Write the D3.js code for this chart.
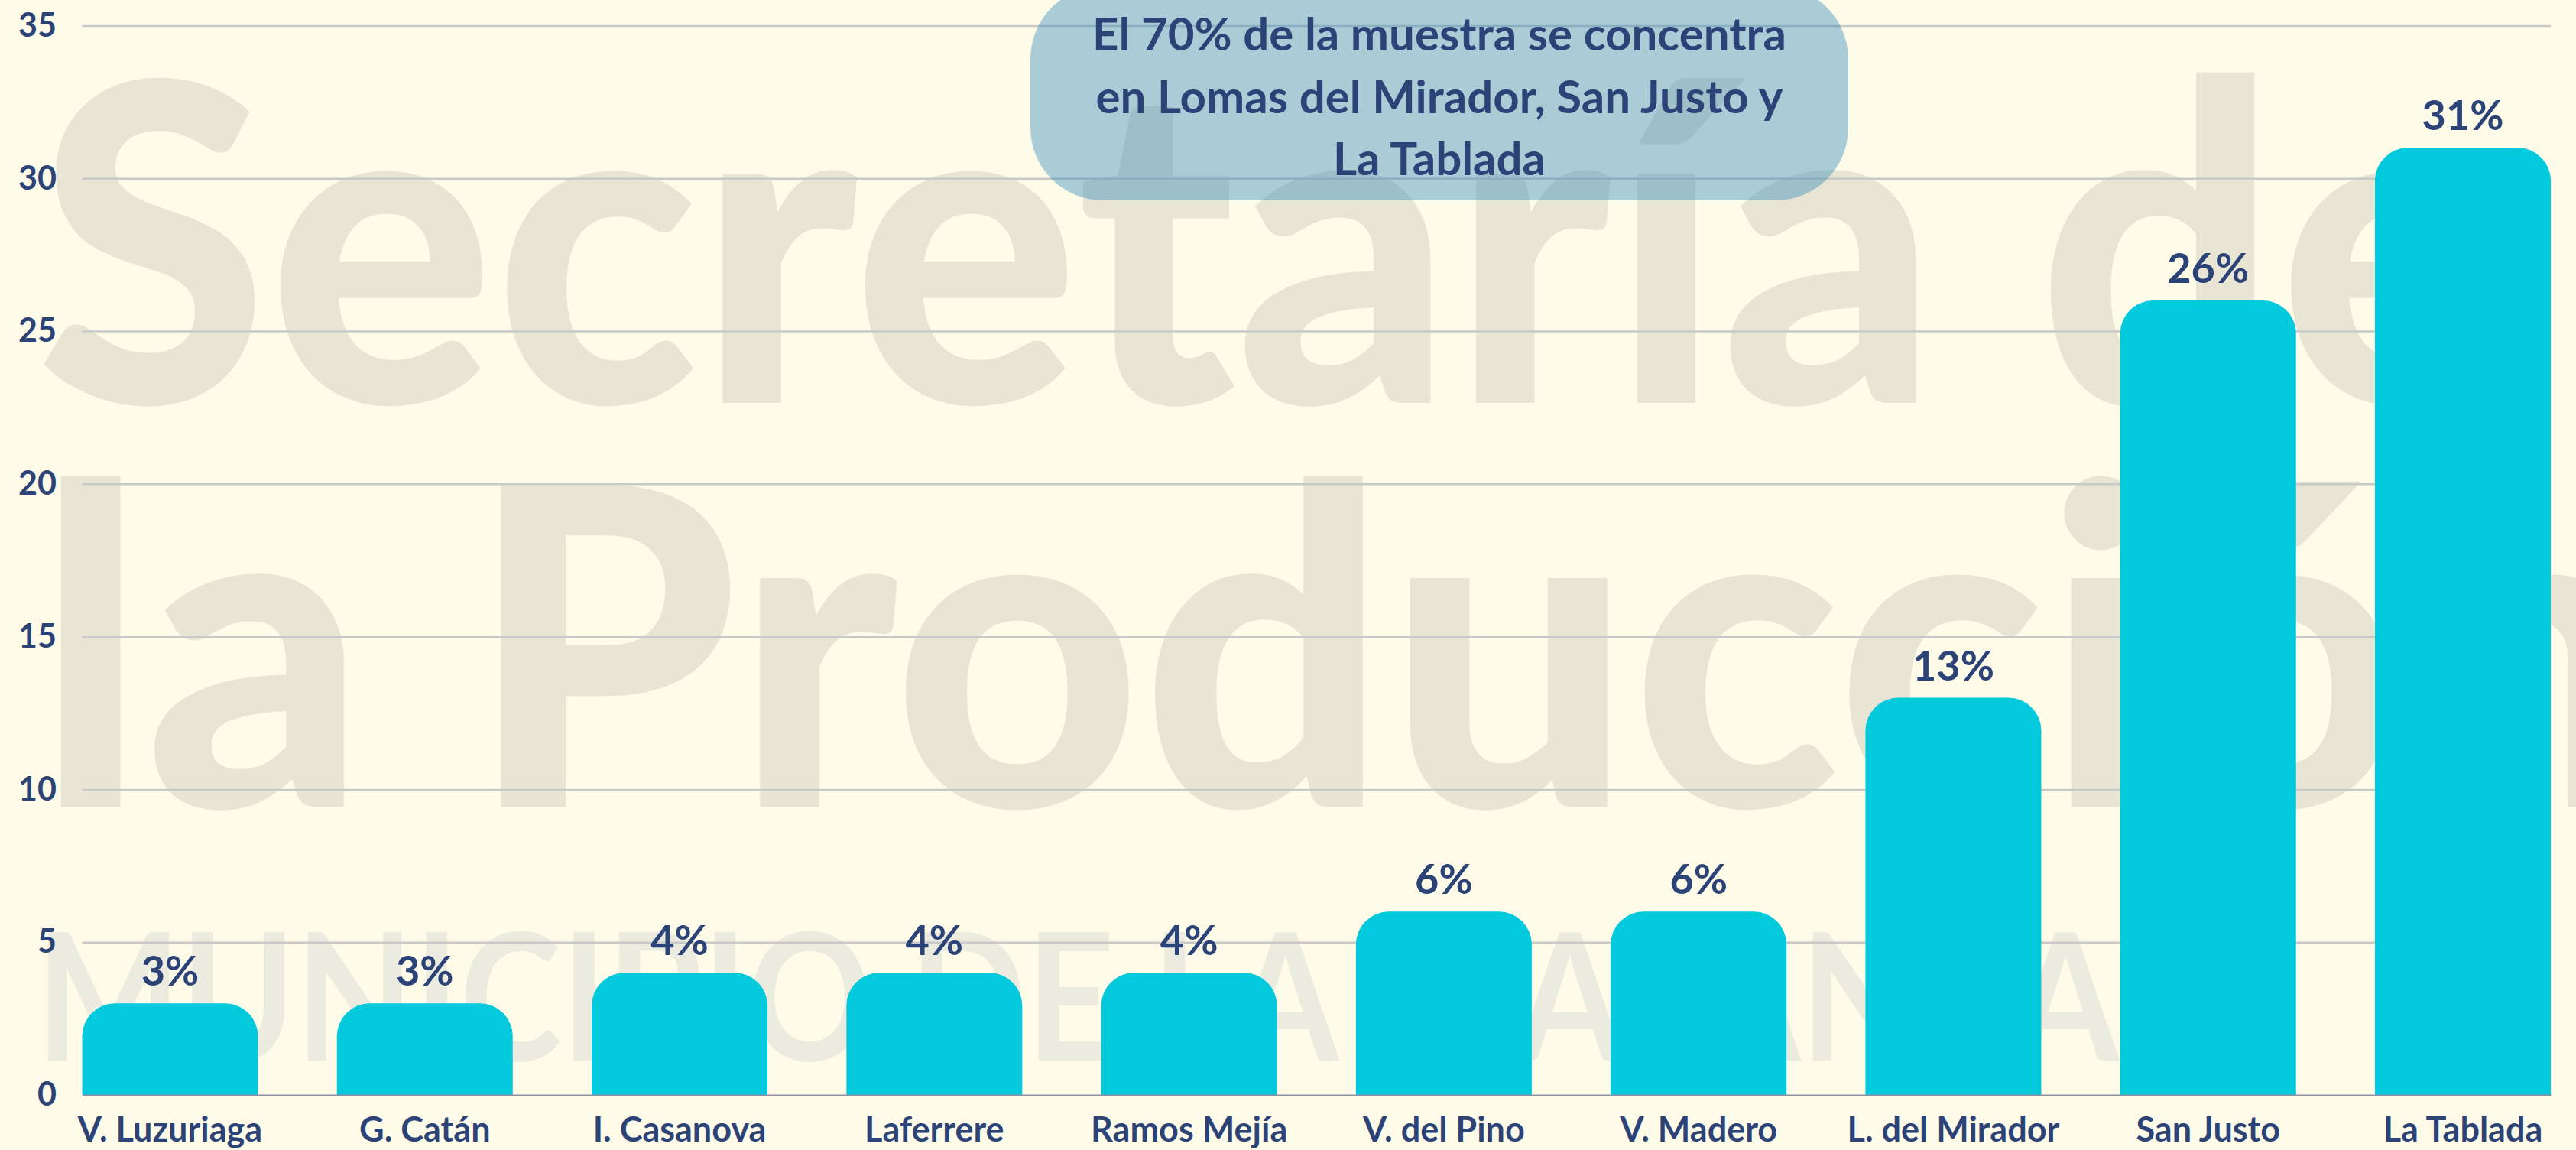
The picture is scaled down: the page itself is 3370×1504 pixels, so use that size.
<!DOCTYPE html>
<html>
<head>
<meta charset="utf-8">
<script src="https://cdn.jsdelivr.net/npm/d3@7"></script>
<style>
  html, body { margin: 0; padding: 0; background: #fefbe9; }
  svg { display: block; }
  text { font-family: Lato, "Open Sans", sans-serif; }
</style>
</head>
<body>
<svg id="chart" width="3370" height="1504"></svg>
<script>
// Data
var barrios = ["V. Luzuriaga", "G. Catán", "I. Casanova", "Laferrere", "Ramos Mejía",
               "V. del Pino", "V. Madero", "L. del Mirador", "San Justo", "La Tablada"];
var porcentajes = [3, 3, 4, 4, 4, 6, 6, 13, 26, 31];
var yTicks = [0, 5, 10, 15, 20, 25, 30, 35];
var notaLineas = ["El 70% de la muestra se concentra",
                  "en Lomas del Mirador, San Justo y",
                  "La Tablada"];

var svg = d3.select("#chart"),
    width = +svg.attr("width"),
    height = +svg.attr("height");

var navy = "#2c4377",
    barColor = "#02c9db";

var x = d3.scaleBand().domain(barrios).range([107.5, 3337]).paddingInner(0.31).paddingOuter(0);
var y = d3.scaleLinear().domain([0, 35]).range([1432, 33.5]);

// background
svg.append("rect").attr("width", width).attr("height", height).attr("fill", "#fefbe9");

// watermark
var wm = svg.append("g").attr("class", "watermark");
wm.append("text")
    .attr("x", 47).attr("y", 527)
    .attr("textLength", 3230).attr("lengthAdjust", "spacingAndGlyphs")
    .style("font-size", "580px").style("font-weight", 900)
    .attr("fill", "#e8e5d5")
    .text("Secretaría de");
wm.append("text")
    .attr("x", 47).attr("y", 1055)
    .attr("textLength", 3420).attr("lengthAdjust", "spacingAndGlyphs")
    .style("font-size", "580px").style("font-weight", 900)
    .attr("fill", "#e8e5d5")
    .text("la Producción");
wm.append("text")
    .attr("x", 47).attr("y", 1387)
    .attr("textLength", 2725).attr("lengthAdjust", "spacingAndGlyphs")
    .style("font-size", "232px").style("font-weight", 700)
    .attr("fill", "#ecebe0")
    .text("MUNICIPIO DE LA MATANZA");

// gridlines
svg.append("g")
    .attr("transform", "translate(107.5,0)")
    .call(d3.axisLeft(y).tickValues(yTicks.slice(1)).tickSize(-(3337 - 107.5)).tickFormat(""))
    .call(function(g) { g.select(".domain").remove(); })
    .call(function(g) { g.selectAll(".tick line").attr("stroke", "#c8c9c8").attr("stroke-width", 2.5); });

// y tick labels
svg.append("g")
    .attr("transform", "translate(74,0)")
    .call(d3.axisLeft(y).tickValues(yTicks).tickSize(0).tickPadding(0))
    .call(function(g) { g.select(".domain").remove(); })
    .call(function(g) {
      g.selectAll("text").attr("fill", navy)
        .style("font-family", "Lato, sans-serif").style("font-size", "43px").style("font-weight", 700);
    });

// bars with rounded tops
function barPath(d, i) {
  var x0 = x(barrios[i]), w = x.bandwidth(), y0 = y(0), y1 = y(d);
  var r = Math.min(43, (y0 - y1), w / 2);
  return "M" + x0 + "," + y0 +
         "V" + (y1 + r) +
         "A" + r + "," + r + " 0 0 1 " + (x0 + r) + "," + y1 +
         "H" + (x0 + w - r) +
         "A" + r + "," + r + " 0 0 1 " + (x0 + w) + "," + (y1 + r) +
         "V" + y0 + "Z";
}

svg.append("g").selectAll("path")
    .data(porcentajes)
    .join("path")
    .attr("d", barPath)
    .attr("fill", barColor);

// x axis
svg.append("g")
    .attr("transform", "translate(0," + y(0) + ")")
    .call(d3.axisBottom(x).tickSize(0).tickSizeOuter(0).tickPadding(29))
    .call(function(g) { g.select(".domain").attr("stroke", "#8e93a6").attr("stroke-width", 2); })
    .call(function(g) {
      g.selectAll("text").attr("fill", navy)
        .style("font-family", "Lato, sans-serif").style("font-size", "45px").style("font-weight", 700);
    });

// value labels
svg.append("g").selectAll("text")
    .data(porcentajes)
    .join("text")
    .attr("x", function(d, i) { return x(barrios[i]) + x.bandwidth() / 2; })
    .attr("y", function(d) { return y(d) - 23; })
    .attr("text-anchor", "middle")
    .attr("fill", navy)
    .style("font-size", "54px").style("font-weight", 700)
    .text(function(d) { return d + "%"; });

// annotation box
var nota = svg.append("g");
nota.append("rect")
    .attr("x", 1348).attr("y", -18)
    .attr("width", 2418 - 1348).attr("height", 262 + 18)
    .attr("rx", 95).attr("ry", 95)
    .attr("fill", "rgb(44,134,184)").attr("fill-opacity", 0.4);
nota.selectAll("text")
    .data(notaLineas)
    .join("text")
    .attr("x", 1883)
    .attr("y", function(d, i) { return 66 + i * 81.5; })
    .attr("text-anchor", "middle")
    .attr("fill", navy)
    .style("font-size", "60px").style("font-weight", 700)
    .text(function(d) { return d; });
</script>
</body>
</html>
